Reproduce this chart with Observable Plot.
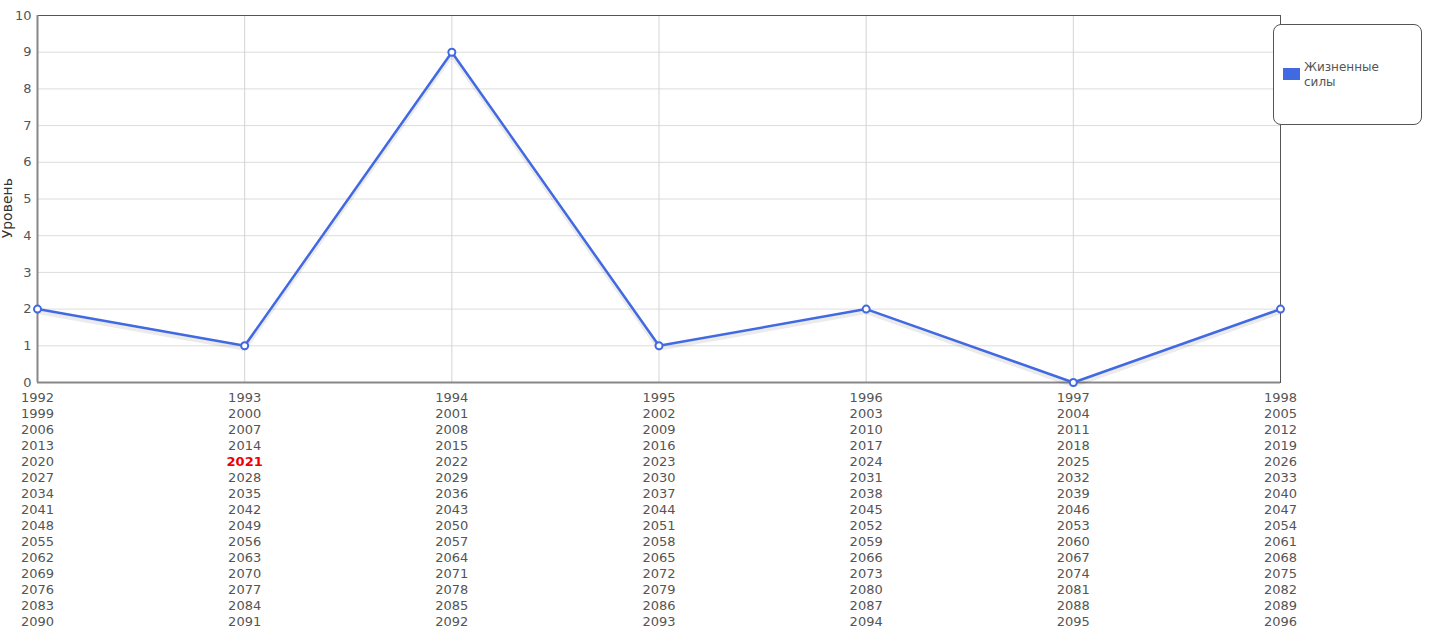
<!DOCTYPE html>
<html>
<head>
<meta charset="utf-8">
<script src="https://cdn.jsdelivr.net/npm/d3@7"></script>
<script src="https://cdn.jsdelivr.net/npm/@observablehq/plot@0.6"></script>
<style>
  html, body { margin: 0; padding: 0; background: #fff; }
  #wrap { position: relative; width: 1431px; height: 640px; font-family: "DejaVu Sans", Verdana, sans-serif; }
  #legend { position: absolute; left: 1273px; top: 24px; width: 147px; height: 99px; border: 1px solid #555; border-radius: 8px; background: #fff; }
  #legend .sw { position: absolute; left: 9px; top: 43px; width: 17px; height: 12px; background: #4169e1; }
  #legend .lb { position: absolute; left: 30px; top: 35px; width: 110px; font-size: 12px; line-height: 15px; color: #555; }
</style>
</head>
<body>
<div id="wrap">
  <div id="chart"></div>
  <div id="legend"><div class="sw"></div><div class="lb" id="legendText"></div></div>
</div>
<script>
const categories = [0, 1, 2, 3, 4, 5, 6];
const seriesName = "Жизненные силы";
const values = [2, 1, 9, 1, 2, 0, 2];
const yTicks = [0, 1, 2, 3, 4, 5, 6, 7, 8, 9, 10];
const yLabel = "Уровень";
const highlightYear = "2021";
const tickRows = [
  ["1992", "1993", "1994", "1995", "1996", "1997", "1998"],
  ["1999", "2000", "2001", "2002", "2003", "2004", "2005"],
  ["2006", "2007", "2008", "2009", "2010", "2011", "2012"],
  ["2013", "2014", "2015", "2016", "2017", "2018", "2019"],
  ["2020", "2021", "2022", "2023", "2024", "2025", "2026"],
  ["2027", "2028", "2029", "2030", "2031", "2032", "2033"],
  ["2034", "2035", "2036", "2037", "2038", "2039", "2040"],
  ["2041", "2042", "2043", "2044", "2045", "2046", "2047"],
  ["2048", "2049", "2050", "2051", "2052", "2053", "2054"],
  ["2055", "2056", "2057", "2058", "2059", "2060", "2061"],
  ["2062", "2063", "2064", "2065", "2066", "2067", "2068"],
  ["2069", "2070", "2071", "2072", "2073", "2074", "2075"],
  ["2076", "2077", "2078", "2079", "2080", "2081", "2082"],
  ["2083", "2084", "2085", "2086", "2087", "2088", "2089"],
  ["2090", "2091", "2092", "2093", "2094", "2095", "2096"]
];

document.getElementById("legendText").textContent = seriesName;

const data = categories.map((c, i) => ({x: c, y: values[i]}));
const labels = [];
tickRows.forEach((row, r) => row.forEach((t, c) => labels.push({x: categories[c], row: r, text: t})));

const blue = "#4169e1";
const labelMarks = tickRows.flatMap((row, r) => {
  const rowLabels = labels.filter(d => d.row === r);
  return [
    Plot.text(rowLabels.filter(d => d.text !== highlightYear), {
      x: "x", y: () => 0, text: "text", dy: 10 + r * 16,
      fontSize: 13, fill: "#555", lineAnchor: "top"
    }),
    Plot.text(rowLabels.filter(d => d.text === highlightYear), {
      x: "x", y: () => 0, text: "text", dy: 10 + r * 16,
      fontSize: 13, fill: "#ee0000", fontWeight: "bold", lineAnchor: "top"
    })
  ];
});

const chart = Plot.plot({
  width: 1431,
  height: 640,
  marginLeft: 37,
  marginRight: 151,
  marginTop: 15,
  marginBottom: 258,
  style: {fontFamily: "DejaVu Sans, Verdana, sans-serif", background: "#fff", overflow: "visible"},
  x: {type: "linear", domain: [0, 6], axis: null},
  y: {domain: [0, 10], axis: null},
  marks: [
    Plot.ruleY(yTicks, {y: d => d, stroke: "#dcdcdc", strokeWidth: 1}),
    Plot.ruleX(categories, {x: d => d, stroke: "#d4d4d4", strokeWidth: 1}),
    Plot.frame({stroke: "#555", strokeWidth: 1}),
    Plot.ruleX([categories[0]], {stroke: "#888", strokeWidth: 2}),
    Plot.ruleY([0], {stroke: "#888", strokeWidth: 2}),
    Plot.line(data, {x: "x", y: "y", stroke: "#000", strokeOpacity: 0.08, strokeWidth: 4, dy: 3}),
    Plot.line(data, {x: "x", y: "y", stroke: blue, strokeWidth: 2.5}),
    Plot.dot(data, {x: "x", y: "y", r: 3.5, fill: "#fff", stroke: blue, strokeWidth: 2}),
    Plot.axisY(yTicks, {tickSize: 0, tickPadding: 6, fontSize: 13, fill: "#555", label: null}),
    ...labelMarks,
    Plot.text([yLabel], {x: () => categories[0], y: () => 4.75, dx: -30, rotate: -90, fontSize: 14, fill: "#333", textAnchor: "middle"})
  ]
});
document.getElementById("chart").appendChild(chart);
</script>
</body>
</html>
